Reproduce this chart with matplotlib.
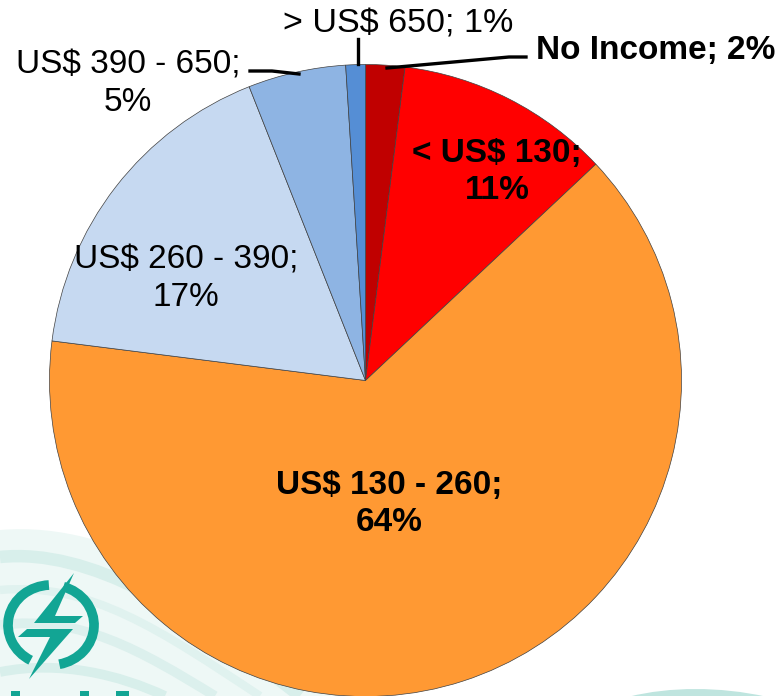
#!/usr/bin/env python3
"""Income distribution pie chart with a faint logo watermark."""
import matplotlib
matplotlib.use("Agg")
import matplotlib.pyplot as plt
from matplotlib.patches import Arc, PathPatch, Polygon
from matplotlib.path import Path

categories = ["No Income", "< US$ 130", "US$ 130 - 260", "US$ 260 - 390",
              "US$ 390 - 650", "> US$ 650"]
shares = [2, 11, 64, 17, 5, 1]
colors = ["#c00000", "#ff0000", "#ff9933", "#c6d9f1", "#8eb4e3", "#558ed5"]

W, H = 784, 696
TEAL = "#12a594"

plt.rcParams["font.family"] = ["Liberation Sans", "DejaVu Sans"]


def py(y):
    # reference pixel row -> axes y
    return H - y


def swoosh(ax, pts, lw, color):
    codes = [Path.MOVETO] + [Path.CURVE4] * (len(pts) - 1)
    verts = [(x, py(y)) for x, y in pts]
    ax.add_patch(PathPatch(Path(verts, codes), fc="none", ec=color,
                           lw=lw, capstyle="butt", zorder=0.5))


def main():
    fig = plt.figure(figsize=(W / 100, H / 100), dpi=100)
    ax = fig.add_axes([0, 0, 1, 1])

    # pale wash behind the logo, then the darker swooshes on top of it
    wash = [(0, 530), (120, 520), (230, 600), (340, 696), (0, 696), (0, 530)]
    wash_codes = [Path.MOVETO, Path.CURVE4, Path.CURVE4, Path.CURVE4,
                  Path.LINETO, Path.CLOSEPOLY]
    ax.add_patch(PathPatch(Path([(x, py(y)) for x, y in wash], wash_codes),
                           fc="#eef8f6", ec="none", zorder=0.2))
    swoosh(ax, [(0, 557), (90, 548), (190, 610), (300, 696)], 9, "#d8efeb")
    swoosh(ax, [(0, 590), (90, 582), (160, 630), (260, 696)], 6, "#e0f2ef")
    swoosh(ax, [(0, 625), (80, 615), (140, 650), (215, 696)], 7, "#dcf0ed")
    swoosh(ax, [(0, 672), (60, 660), (120, 675), (165, 696)], 7, "#d8efeb")
    swoosh(ax, [(630, 700), (670, 690), (720, 690), (765, 700)], 5, "#bfe5df")

    wedges, _ = ax.pie(
        shares, colors=colors, startangle=90, counterclock=False,
        center=(365.5, py(380.5)), radius=316,
        wedgeprops={"edgecolor": "#404040", "linewidth": 0.5},
    )
    for w in wedges:
        w.set_zorder(2)

    ax.set_xlim(0, W)
    ax.set_ylim(0, H)
    ax.set_aspect("equal")
    ax.axis("off")

    # logo: broken ring with a two-part bolt through it
    for t1, t2 in [(93, 240), (-78, 72)]:
        ax.add_patch(Arc((51, py(625)), 86, 80, theta1=t1, theta2=t2,
                         ec=TEAL, lw=7, zorder=1))
    ax.add_patch(Polygon([(x, py(y)) for x, y in
                          [(74, 573), (34, 623), (75, 623), (83, 616), (55, 616)]],
                         fc=TEAL, ec="none", zorder=1))
    ax.add_patch(Polygon([(x, py(y)) for x, y in
                          [(18, 637), (27, 629), (73, 629), (29, 679), (50, 637)]],
                         fc=TEAL, ec="none", zorder=1))
    for x0, x1 in [(11, 20), (80, 89), (116, 129)]:
        ax.fill_between([x0, x1], 0, py(691), color=TEAL, lw=0, zorder=1)

    # leader lines
    ax.plot([358, 358], [py(39), py(64)], color="black", lw=2.4, zorder=3)
    ax.plot([387, 509, 526], [py(68), py(57), py(57)], color="black", lw=2.4, zorder=3)
    ax.plot([250, 272, 299], [py(71), py(71), py(74)], color="black", lw=2.4, zorder=3)

    txt = dict(ha="center", va="center", color="black",
               linespacing=1.26, zorder=4)
    ax.text(398, py(24), "> US$ 650; 1%", fontsize=24.6, **txt)
    ax.text(656, py(50), "No Income; 2%", fontsize=24, fontweight="bold", **txt)
    ax.text(128, py(84), "US$ 390 - 650;\n5%", fontsize=24, **txt)
    ax.text(497, py(172), "< US$ 130;\n11%", fontsize=24, fontweight="bold", **txt)
    ax.text(186, py(279), "US$ 260 - 390;\n17%", fontsize=24, **txt)
    ax.text(389, py(504), "US$ 130 - 260;\n64%", fontsize=24, fontweight="bold", **txt)

    fig.savefig("out.png", dpi=100)
    plt.close(fig)
    return 0


if __name__ == "__main__":
    raise SystemExit(main())
